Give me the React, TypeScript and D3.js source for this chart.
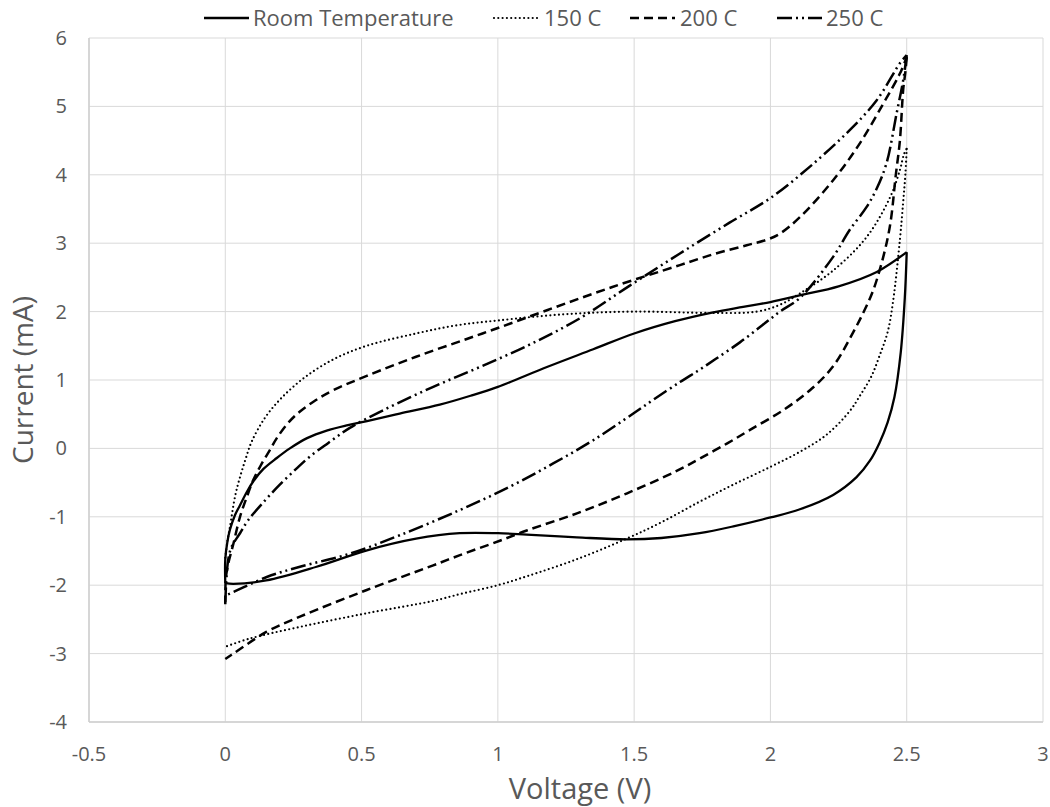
import React from "react";
import * as d3 from "d3";

const xTicks = [-0.5, 0, 0.5, 1, 1.5, 2, 2.5, 3];
const yTicks = [-4, -3, -2, -1, 0, 1, 2, 3, 4, 5, 6];

const seriesNames = ["Room Temperature", "150 C", "200 C", "250 C"];

// [Voltage (V), Current (mA)] — anodic (forward) scan and cathodic (reverse) scan
const roomTempFwd: [number, number][] = [
  [0, -1.97], [0, -1.62], [0.008, -1.36], [0.017, -1.19], [0.035, -0.98], [0.054, -0.83], [0.08, -0.63],
  [0.103, -0.48], [0.14, -0.3], [0.189, -0.14], [0.237, 0.0], [0.3, 0.15], [0.372, 0.26],
  [0.45, 0.34], [0.52, 0.4], [0.64, 0.51], [0.787, 0.64], [0.9, 0.77], [1.0, 0.9],
  [1.18, 1.19], [1.35, 1.45], [1.5, 1.68], [1.65, 1.86], [1.79, 1.99], [1.9, 2.07],
  [2.0, 2.14], [2.11, 2.24], [2.25, 2.37], [2.39, 2.58], [2.5, 2.87],
];
const roomTempRev: [number, number][] = [
  [2.5, 2.87], [2.493, 2.2], [2.478, 1.4], [2.455, 0.75], [2.43, 0.38], [2.4, 0.08], [2.365, -0.18],
  [2.316, -0.42], [2.23, -0.68], [2.108, -0.89], [2.0, -1.01], [1.864, -1.14], [1.74, -1.24],
  [1.6, -1.31], [1.472, -1.33], [1.29, -1.3], [1.106, -1.26], [1.0, -1.24], [0.86, -1.24],
  [0.7, -1.32], [0.52, -1.49], [0.335, -1.73], [0.15, -1.93], [0.03, -1.98], [0, -1.97],
];

const temp150Fwd: [number, number][] = [
  [0, -1.6], [0.008, -1.35], [0.017, -1.15], [0.036, -0.7], [0.054, -0.42], [0.075, -0.15],
  [0.097, 0.1], [0.146, 0.45], [0.207, 0.74], [0.292, 1.04], [0.396, 1.3], [0.519, 1.5],
  [0.7, 1.68], [0.85, 1.8], [1.0, 1.87], [1.24, 1.96], [1.5, 2.0], [1.79, 1.98], [1.95, 2.0],
  [2.035, 2.1], [2.11, 2.27], [2.23, 2.6], [2.353, 3.09], [2.44, 3.68], [2.475, 4.07],
  [2.49, 4.3], [2.5, 4.38],
];
const temp150Rev: [number, number][] = [
  [2.5, 4.38], [2.495, 4.0], [2.487, 3.6], [2.475, 3.05], [2.45, 2.15], [2.43, 1.7], [2.4, 1.35],
  [2.37, 1.05], [2.33, 0.78], [2.29, 0.54], [2.206, 0.2], [2.108, -0.05], [2.0, -0.27],
  [1.864, -0.53], [1.74, -0.78], [1.6, -1.08], [1.472, -1.32], [1.29, -1.62], [1.106, -1.87],
  [1.0, -2.0], [0.861, -2.13], [0.763, -2.23], [0.519, -2.41], [0.274, -2.61], [0.09, -2.78],
  [0, -2.9],
];

const temp200Fwd: [number, number][] = [
  [0, -2.28], [0.002, -1.9], [0.01, -1.7], [0.03, -1.39], [0.054, -1.0], [0.08, -0.7],
  [0.103, -0.46], [0.13, -0.25], [0.164, -0.02], [0.189, 0.15], [0.23, 0.37], [0.274, 0.54],
  [0.33, 0.7], [0.396, 0.85], [0.519, 1.06], [0.7, 1.34], [0.886, 1.6], [1.0, 1.76],
  [1.18, 2.02], [1.42, 2.36], [1.668, 2.68], [1.8, 2.85], [1.913, 2.97], [1.986, 3.05],
  [2.035, 3.14], [2.108, 3.38], [2.23, 3.92], [2.328, 4.46], [2.414, 5.04], [2.475, 5.48],
  [2.5, 5.72],
];
const temp200Rev: [number, number][] = [
  [2.5, 5.72], [2.495, 5.5], [2.487, 5.24], [2.475, 4.5], [2.46, 4.0], [2.44, 3.29], [2.414, 2.8],
  [2.377, 2.31], [2.345, 2.02], [2.304, 1.7], [2.23, 1.2], [2.145, 0.85], [2.047, 0.56],
  [1.925, 0.27], [1.84, 0.07], [1.74, -0.15], [1.656, -0.33], [1.472, -0.66], [1.29, -0.95],
  [1.106, -1.2], [1.007, -1.35], [0.861, -1.56], [0.763, -1.71], [0.519, -2.07],
  [0.274, -2.46], [0.152, -2.68], [0.03, -3.0], [0, -3.08],
];

const temp250Fwd: [number, number][] = [
  [0, -2.25], [0.005, -1.85], [0.012, -1.6], [0.023, -1.44], [0.054, -1.24], [0.084, -1.05],
  [0.146, -0.76], [0.2, -0.53], [0.26, -0.3], [0.31, -0.12], [0.378, 0.08], [0.457, 0.3],
  [0.58, 0.56], [0.763, 0.9], [0.934, 1.19], [1.118, 1.52], [1.3, 1.9],
  [1.484, 2.38], [1.668, 2.85], [1.85, 3.3], [2.0, 3.66], [2.145, 4.12], [2.29, 4.65],
  [2.39, 5.09], [2.475, 5.63], [2.5, 5.75],
];
const temp250Rev: [number, number][] = [
  [2.5, 5.75], [2.495, 5.6], [2.487, 5.38], [2.463, 4.9], [2.426, 4.17], [2.39, 3.8], [2.353, 3.53],
  [2.29, 3.19], [2.23, 2.8], [2.108, 2.2], [2.035, 2.0], [1.97, 1.8], [1.888, 1.55],
  [1.8, 1.31], [1.74, 1.15], [1.668, 0.97], [1.57, 0.71], [1.497, 0.51], [1.35, 0.12],
  [1.203, -0.22], [1.044, -0.56], [0.861, -0.9], [0.64, -1.27], [0.457, -1.54],
  [0.274, -1.73], [0.152, -1.88], [0.03, -2.1], [0, -2.15],
];

const allSeries = [
  [roomTempFwd, roomTempRev],
  [temp150Fwd, temp150Rev],
  [temp200Fwd, temp200Rev],
  [temp250Fwd, temp250Rev],
];

const W = 1050;
const H = 807;
const left = 89;
const right = 1043;
const top = 38;
const bottom = 722;

const styles = [
  { dash: "none", width: 2.3, cap: "butt" },
  { dash: "0 4.3", width: 2.2, cap: "round" },
  { dash: "9 5", width: 2.5, cap: "butt" },
  { dash: "15 4 2 4 2 4", width: 2.5, cap: "butt" },
];

const font = "'Open Sans', 'DejaVu Sans', sans-serif";

export default function App() {
  const x = d3.scaleLinear().domain([-0.5, 3]).range([left, right]);
  const y = d3.scaleLinear().domain([-4, 6]).range([bottom, top]);
  const line = d3
    .line<[number, number]>()
    .x((d) => x(d[0]))
    .y((d) => y(d[1]))
    .curve(d3.curveCatmullRom.alpha(0.5));

  const legendItems = [
    { lineX: 204, textX: 253 },
    { lineX: 494, textX: 544 },
    { lineX: 630, textX: 680 },
    { lineX: 777, textX: 826 },
  ];

  return (
    <div style={{ position: "absolute", left: 0, top: 0 }}>
      <svg width={W} height={H} style={{ display: "block", background: "#fff" }}>
        <g>
          {xTicks.map((t) => (
            <line key={"gx" + t} x1={x(t)} x2={x(t)} y1={top} y2={bottom} stroke="#d9d9d9" strokeWidth={1} />
          ))}
          {yTicks.map((t) => (
            <line key={"gy" + t} x1={left} x2={right} y1={y(t)} y2={y(t)} stroke="#d9d9d9" strokeWidth={1} />
          ))}
          <line x1={left} x2={left} y1={top} y2={bottom} stroke="#cfcfcf" strokeWidth={1.5} />
          <line x1={left} x2={right} y1={bottom} y2={bottom} stroke="#cfcfcf" strokeWidth={1.5} />
        </g>
        <g fill="#595959" fontFamily={font} fontSize={20}>
          {yTicks.map((t) => (
            <text key={"ty" + t} x={left - 22} y={y(t)} dy="0.35em" textAnchor="end">
              {t}
            </text>
          ))}
          {xTicks.map((t) => (
            <text key={"tx" + t} x={x(t)} y={bottom + 39} textAnchor="middle">
              {t}
            </text>
          ))}
        </g>
        <text x={580} y={799} textAnchor="middle" fontFamily={font} fontSize={29} fill="#595959">
          Voltage (V)
        </text>
        <text
          transform={`translate(33, ${(top + bottom) / 2}) rotate(-90)`}
          textAnchor="middle"
          fontFamily={font}
          fontSize={28}
          fill="#595959"
        >
          Current (mA)
        </text>
        <g fill="none" stroke="#000">
          {allSeries.map((segs, i) =>
            segs.map((s, j) => (
              <path
                key={"s" + i + "-" + j}
                d={line(s) || ""}
                strokeWidth={styles[i].width}
                strokeDasharray={styles[i].dash}
                strokeLinecap={styles[i].cap as any}
                strokeLinejoin="round"
              />
            ))
          )}
        </g>
        <g>
          {seriesNames.map((name, i) => (
            <g key={"lg" + i}>
              <line
                x1={legendItems[i].lineX}
                x2={legendItems[i].lineX + 45}
                y1={18}
                y2={18}
                stroke="#000"
                strokeWidth={styles[i].width}
                strokeDasharray={styles[i].dash}
                strokeLinecap={styles[i].cap as any}
              />
              <text x={legendItems[i].textX} y={18} dy="0.35em" fontFamily={font} fontSize={22} fill="#595959">
                {name}
              </text>
            </g>
          ))}
        </g>
      </svg>
    </div>
  );
}
